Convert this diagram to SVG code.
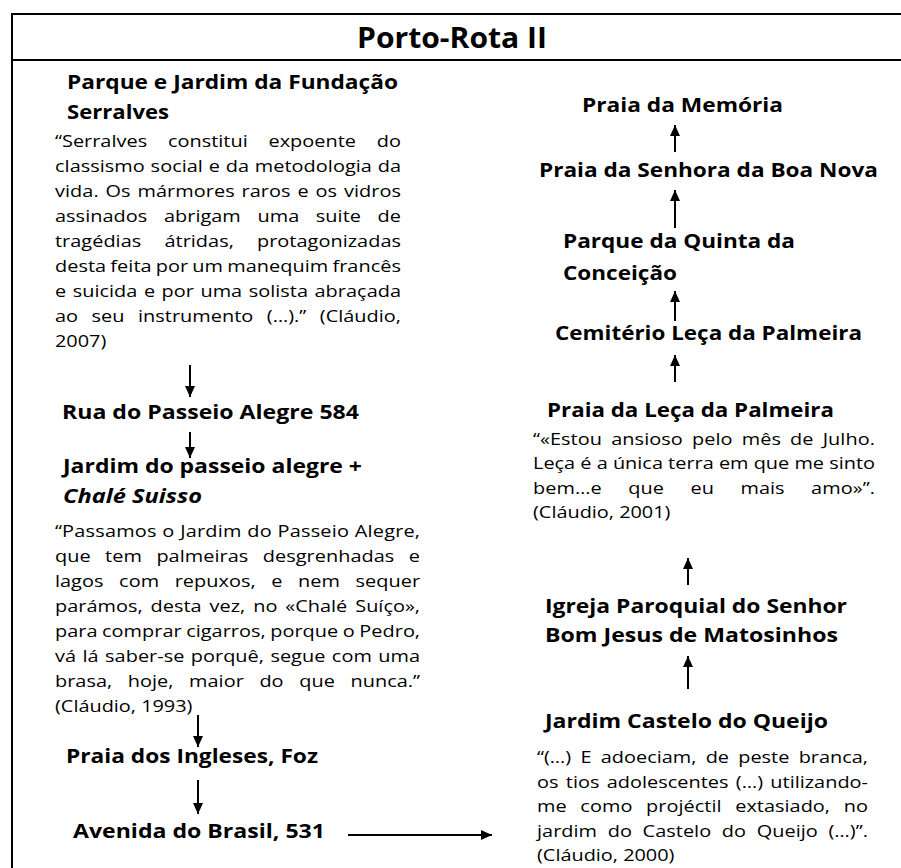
<svg xmlns="http://www.w3.org/2000/svg" width="901" height="868" viewBox="0 0 901 868">
<style>
text{font-family:"Open Sans","Noto Sans","DejaVu Sans",sans-serif;fill:#000}
.t{font-size:28px;font-weight:700}
.h{font-size:19.5px;font-weight:700}
.hi{font-size:19.5px;font-weight:700;font-style:italic}
.b{font-size:17px}
.frame{stroke:#000;stroke-width:2;fill:none}
.c{stroke:#000;stroke-width:2;fill:none;marker-end:url(#ah)}
</style>
<defs>
<marker id="ah" markerUnits="userSpaceOnUse" markerWidth="12" markerHeight="12" viewBox="0 0 12 12" refX="11" refY="6" orient="auto">
<path d="M0,1 L11,6 L0,11 Z" fill="#000"/>
</marker>
</defs>
<rect width="901" height="868" fill="#fff"/>
<g id="frame">
<path class="frame" d="M902,14 H12 V869 M12,60 H902"/>
</g>
<g id="title"><text class="t" x="357" y="48" textLength="190" lengthAdjust="spacingAndGlyphs">Porto-Rota II</text></g>

<g id="serralves">
<text class="h" x="67" y="89" textLength="331" lengthAdjust="spacingAndGlyphs">Parque e Jardim da Fundação</text>
<text class="h" x="67" y="119" textLength="102" lengthAdjust="spacingAndGlyphs">Serralves</text>
<g transform="translate(55,0) scale(1.17,1)">
<text class="b" x="0" y="147" word-spacing="13.3" textLength="295.7" lengthAdjust="spacing">“Serralves constitui expoente do</text>
<text class="b" x="0" y="172" word-spacing="0.5" textLength="295.7" lengthAdjust="spacing">classismo social e da metodologia da</text>
<text class="b" x="0" y="197" word-spacing="1.4" textLength="295.7" lengthAdjust="spacing">vida. Os mármores raros e os vidros</text>
<text class="b" x="0" y="222" word-spacing="9.7" textLength="295.7" lengthAdjust="spacing">assinados abrigam uma suite de</text>
<text class="b" x="0" y="247" word-spacing="15.3" textLength="295.7" lengthAdjust="spacing">tragédias átridas, protagonizadas</text>
<text class="b" x="0" y="272" word-spacing="-0.9" textLength="295.7" lengthAdjust="spacing">desta feita por um manequim francês</text>
<text class="b" x="0" y="297" word-spacing="1.1" textLength="295.7" lengthAdjust="spacing">e suicida e por uma solista abraçada</text>
<text class="b" x="0" y="322" word-spacing="7.1" textLength="295.7" lengthAdjust="spacing">ao seu instrumento (…).” (Cláudio,</text>
<text class="b" x="0" y="347">2007)</text>
</g>
</g>

<g id="rua"><text class="h" x="62" y="419" textLength="297" lengthAdjust="spacingAndGlyphs">Rua do Passeio Alegre 584</text></g>

<g id="jardim-passeio">
<text class="h" x="63" y="473" textLength="299" lengthAdjust="spacingAndGlyphs">Jardim do passeio alegre +</text>
<text class="hi" x="63" y="503" textLength="139" lengthAdjust="spacingAndGlyphs">Chalé Suisso</text>
<g transform="translate(55,0) scale(1.17,1)">
<text class="b" x="0" y="537" word-spacing="0.3" textLength="312" lengthAdjust="spacing">“Passamos o Jardim do Passeio Alegre,</text>
<text class="b" x="0" y="562" word-spacing="7.9" textLength="312" lengthAdjust="spacing">que tem palmeiras desgrenhadas e</text>
<text class="b" x="0" y="587" word-spacing="8.9" textLength="312" lengthAdjust="spacing">lagos com repuxos, e nem sequer</text>
<text class="b" x="0" y="612" word-spacing="2.3" textLength="312" lengthAdjust="spacing">parámos, desta vez, no «Chalé Suíço»,</text>
<text class="b" x="0" y="637" word-spacing="-0.5" textLength="312" lengthAdjust="spacing">para comprar cigarros, porque o Pedro,</text>
<text class="b" x="0" y="662" word-spacing="1.1" textLength="312" lengthAdjust="spacing">vá lá saber-se porquê, segue com uma</text>
<text class="b" x="0" y="687" word-spacing="8.9" textLength="312" lengthAdjust="spacing">brasa, hoje, maior do que nunca.”</text>
<text class="b" x="0" y="712">(Cláudio, 1993)</text>
</g>
</g>

<g id="ingleses"><text class="h" x="66" y="763" textLength="252" lengthAdjust="spacingAndGlyphs">Praia dos Ingleses, Foz</text></g>
<g id="avenida"><text class="h" x="73" y="838" textLength="252" lengthAdjust="spacingAndGlyphs">Avenida do Brasil, 531</text></g>

<g id="memoria"><text class="h" x="582" y="112" textLength="201" lengthAdjust="spacingAndGlyphs">Praia da Memória</text></g>
<g id="boa-nova"><text class="h" x="539" y="177" textLength="339" lengthAdjust="spacingAndGlyphs">Praia da Senhora da Boa Nova</text></g>
<g id="quinta">
<text class="h" x="563" y="248" textLength="232" lengthAdjust="spacingAndGlyphs">Parque da Quinta da</text>
<text class="h" x="563" y="280" textLength="114" lengthAdjust="spacingAndGlyphs">Conceição</text>
</g>
<g id="cemiterio"><text class="h" x="555" y="340" textLength="307" lengthAdjust="spacingAndGlyphs">Cemitério Leça da Palmeira</text></g>

<g id="leca">
<text class="h" x="547" y="417" textLength="287" lengthAdjust="spacingAndGlyphs">Praia da Leça da Palmeira</text>
<g transform="translate(533,0) scale(1.17,1)">
<text class="b" x="0" y="445" word-spacing="3.3" textLength="292.3" lengthAdjust="spacing">“«Estou ansioso pelo mês de Julho.</text>
<text class="b" x="0" y="469" word-spacing="0" textLength="292.3" lengthAdjust="spacing">Leça é a única terra em que me sinto</text>
<text class="b" x="0" y="494" word-spacing="18.1" textLength="292.3" lengthAdjust="spacing">bem…e que eu mais amo»”.</text>
<text class="b" x="0" y="518">(Cláudio, 2001)</text>
</g>
</g>

<g id="igreja">
<text class="h" x="545" y="613" textLength="302" lengthAdjust="spacingAndGlyphs">Igreja Paroquial do Senhor</text>
<text class="h" x="545" y="642" textLength="293" lengthAdjust="spacingAndGlyphs">Bom Jesus de Matosinhos</text>
</g>

<g id="castelo">
<text class="h" x="545" y="728" textLength="283" lengthAdjust="spacingAndGlyphs">Jardim Castelo do Queijo</text>
<g transform="translate(537,0) scale(1.17,1)">
<text class="b" x="0" y="763" word-spacing="3.5" textLength="282.9" lengthAdjust="spacing">“(…) E adoeciam, de peste branca,</text>
<text class="b" x="0" y="788" word-spacing="1.8" textLength="282.9" lengthAdjust="spacing">os tios adolescentes (…) utilizando-</text>
<text class="b" x="0" y="812" word-spacing="7.3" textLength="282.9" lengthAdjust="spacing">me como projéctil extasiado, no</text>
<text class="b" x="0" y="837" word-spacing="4.7" textLength="282.9" lengthAdjust="spacing">jardim do Castelo do Queijo (…)”.</text>
<text class="b" x="0" y="861">(Cláudio, 2000)</text>
</g>
</g>

<g id="connectors">
<line class="c" x1="190" y1="365" x2="190" y2="397"/>
<line class="c" x1="190" y1="432" x2="190" y2="458"/>
<line class="c" x1="198" y1="715" x2="198" y2="747"/>
<line class="c" x1="198" y1="780" x2="198" y2="814"/>
<line class="c" x1="348" y1="835" x2="492" y2="835"/>
<line class="c" x1="688" y1="689" x2="688" y2="656"/>
<line class="c" x1="688" y1="585" x2="688" y2="558"/>
<line class="c" x1="675" y1="382" x2="675" y2="355"/>
<line class="c" x1="675" y1="321" x2="675" y2="291"/>
<line class="c" x1="675" y1="228" x2="675" y2="190"/>
<line class="c" x1="675" y1="152" x2="675" y2="125"/>
</g>
</svg>
